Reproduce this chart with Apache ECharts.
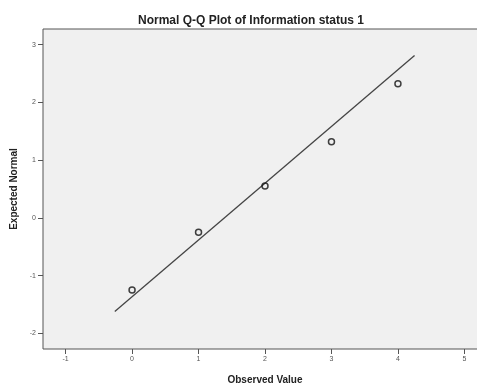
<!DOCTYPE html>
<html>
<head>
<meta charset="utf-8">
<script src="https://cdn.jsdelivr.net/npm/echarts@6/dist/echarts.min.js"></script>
<style>
  html, body { margin: 0; padding: 0; background: #ffffff; }
  #chart { width: 477px; height: 383px; }
</style>
</head>
<body>
<div id="chart"></div>
<script>
// Observed values and their expected normal scores
const observed = [0, 1, 2, 3, 4];
const expectedNormal = [-1.25, -0.25, 0.55, 1.32, 2.32];

// Reference line end points (observed, expected normal)
const lineX = [-0.26, 4.25];
const lineY = [-1.62, 2.81];

// Tick labels shown on each axis
const xTicks = [-1, 0, 1, 2, 3, 4, 5];
const yTicks = [-2, -1, 0, 1, 2, 3];

const titleText = 'Normal Q-Q Plot of Information status 1';
const xTitle = 'Observed Value';
const yTitle = 'Expected Normal';

const chart = echarts.init(document.getElementById('chart'), null, { renderer: 'canvas' });

const tickLabelStyle = {
  color: '#555',
  fontSize: 7,
  fontFamily: 'Liberation Sans, Arial, sans-serif'
};

chart.setOption({
  animation: false,
  backgroundColor: '#ffffff',
  title: {
    text: titleText,
    left: 246,
    top: 10,
    textAlign: 'center',
    textStyle: {
      fontSize: 12,
      fontWeight: 'bold',
      color: '#222',
      fontFamily: 'Liberation Sans, Arial, sans-serif'
    }
  },
  grid: {
    left: 43,
    top: 29,
    width: 444,
    height: 320,
    outerBoundsMode: 'none',
    containLabel: false,
    show: true,
    backgroundColor: '#f0f0f0',
    borderColor: '#555',
    borderWidth: 1
  },
  xAxis: {
    type: 'value',
    min: -1.34,
    max: 5.34,
    name: xTitle,
    nameLocation: 'middle',
    nameGap: 26,
    nameTextStyle: {
      fontSize: 10,
      fontWeight: 'bold',
      color: '#222',
      fontFamily: 'Liberation Sans, Arial, sans-serif'
    },
    axisLine: { show: false, onZero: false },
    axisTick: {
      show: true,
      length: 5,
      customValues: xTicks,
      lineStyle: { color: '#555', width: 1 }
    },
    axisLabel: Object.assign({ customValues: xTicks, margin: 7 }, tickLabelStyle),
    splitLine: { show: false }
  },
  yAxis: {
    type: 'value',
    min: -2.27,
    max: 3.27,
    name: yTitle,
    nameLocation: 'middle',
    nameGap: 22,
    nameRotate: 90,
    nameTextStyle: {
      fontSize: 10,
      fontWeight: 'bold',
      color: '#222',
      fontFamily: 'Liberation Sans, Arial, sans-serif'
    },
    axisLine: { show: false, onZero: false },
    axisTick: {
      show: true,
      length: 5,
      customValues: yTicks,
      lineStyle: { color: '#555', width: 1 }
    },
    axisLabel: Object.assign({ customValues: yTicks, margin: 7 }, tickLabelStyle),
    splitLine: { show: false }
  },
  series: [
    {
      type: 'line',
      data: lineX.map((x, i) => [x, lineY[i]]),
      symbol: 'none',
      lineStyle: { color: '#444', width: 1.3 },
      silent: true,
      z: 2
    },
    {
      type: 'scatter',
      data: observed.map((x, i) => [x, expectedNormal[i]]),
      symbol: 'circle',
      symbolSize: 6,
      itemStyle: {
        color: 'rgba(0,0,0,0)',
        borderColor: '#111',
        borderWidth: 1.5
      },
      z: 3
    }
  ]
});
</script>
</body>
</html>
